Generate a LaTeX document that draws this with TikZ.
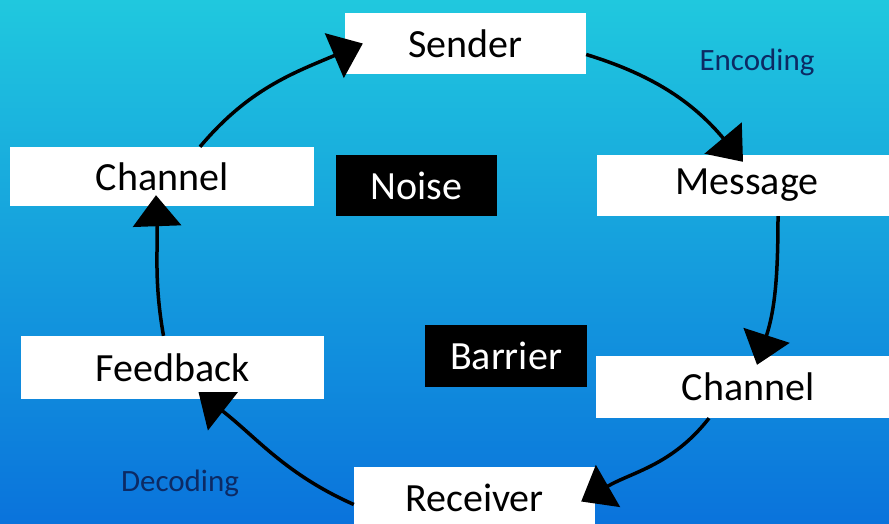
\documentclass[tikz,border=0pt]{standalone}
\usepackage{fontspec}
\setmainfont{Carlito}
\usepackage{tikz}
\usetikzlibrary{arrows.meta}

\definecolor{bgtop}{RGB}{32,200,222}
\definecolor{bgmid}{RGB}{20,160,226}
\definecolor{bgbot}{RGB}{10,115,220}
\definecolor{labelblue}{RGB}{12,42,100}

\begin{document}
\begin{tikzpicture}[x=1pt,y=1pt,
        box/.style={rectangle,fill=white,text=black,inner sep=0pt,
                    font=\fontsize{40}{48}\selectfont},
        dark/.style={rectangle,fill=black,text=white,inner sep=0pt,
                     font=\fontsize{40}{48}\selectfont},
        step label/.style={text=labelblue,font=\fontsize{31}{37}\selectfont},
        every edge/.style={draw,line width=3.5pt,
                           -{Triangle[length=31pt,width=48pt]}}]

        \useasboundingbox (0,0) rectangle (889,-524);
        \shade[top color=bgtop,middle color=bgmid,bottom color=bgbot]
              (0,0) rectangle (889,-524);

        \node[box, minimum width=241pt, minimum height=61pt] (sender)   at (465.5,-43.5) {Sender};
        \node[box, minimum width=304pt, minimum height=59pt] (channelL) at (162,-176.5)  {Channel};
        \node[dark,minimum width=161pt, minimum height=61pt] (noise)    at (416.5,-185.5){Noise};
        \node[box, minimum width=300pt, minimum height=61pt] (message)  at (747,-185.5)  {Message};
        \node[dark,minimum width=162pt, minimum height=62pt] (barrier)  at (506,-356)    {Barrier};
        \node[box, minimum width=303pt, minimum height=63pt] (feedback) at (172.5,-367.5){Feedback};
        \node[box, minimum width=304pt, minimum height=62pt] (channelR) at (748,-387)    {Channel};
        \node[box, minimum width=241pt, minimum height=61pt] (receiver) at (474.5,-497.5){Receiver};

        \node[step label] (encoding) at (757,-62)  {Encoding};
        \node[step label] (decoding) at (180,-483) {Decoding};

        \path ([yshift=-11pt]sender.east)     edge [out=-17, in=130] ([xshift=-4pt,yshift=-7pt]message.north)
              ([xshift=31pt]message.south)    edge [out=-90, in=72]  ([xshift=9pt,yshift=-9pt]channelR.north)
              ([xshift=-39pt]channelR.south)  edge [out=-128,in=30]  ([xshift=-14pt,yshift=-4pt]receiver.east)
              ([yshift=-7pt]receiver.west)    edge [out=156, in=-38] ([xshift=26pt,yshift=7pt]feedback.south)
              ([xshift=-9pt]feedback.north)   edge [out=100, in=-88] ([xshift=-6pt,yshift=11pt]channelL.south)
              ([xshift=38pt]channelL.north)   edge [out=50,  in=-157]([xshift=18pt]sender.west);
\end{tikzpicture}
\end{document}
